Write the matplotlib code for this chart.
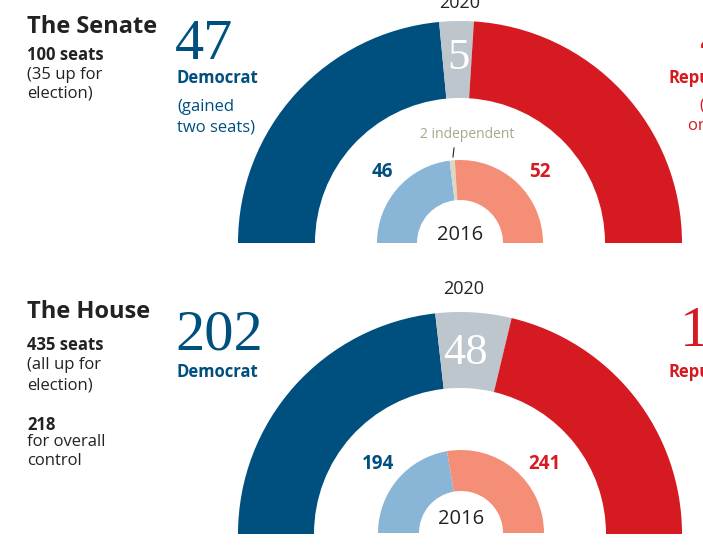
import matplotlib.pyplot as plt

# 2020 results (outer ring) and 2016 results (inner ring)
senate_2020 = [47, 5, 48]        # Democrat, undecided, Republican
senate_2016 = [46, 2, 52]        # Democrat, independent, Republican
house_2020 = [202, 48, 185]
house_2016 = [194, 241]

dem_dark = '#00507f'
rep_dark = '#d61a21'
undecided = '#bcc6cc'
dem_light = '#89b5d7'
rep_light = '#f58e77'
indep = '#dad8c4'
ink = '#222222'

W, H = 703, 546
fig = plt.figure(figsize=(W / 100, H / 100), dpi=100)
ax = fig.add_axes([0, 0, 1, 1])

sans = 'Open Sans'
serif = 'Liberation Serif'


def half_donut(values, colors, cx, cy, r, width):
    # the hidden last slice makes the visible ones fill the top half
    vals = list(values) + [sum(values)]
    cols = list(colors) + ['none']
    ax.pie(vals, colors=cols, startangle=180, counterclock=False,
           center=(cx, H - cy), radius=r,
           wedgeprops=dict(width=width, linewidth=0))


def txt(x, y, s, size, color=ink, weight='normal', ha='left', family=sans):
    ax.text(x, H - y, s, fontsize=size, color=color, fontweight=weight,
            ha=ha, va='center', family=family)


# Senate
half_donut(senate_2020, [dem_dark, undecided, rep_dark], 460, 243, 222, 77)
half_donut(senate_2016, [dem_light, indep, rep_light], 460, 243, 83, 40)

txt(27, 27, 'The Senate', 17, weight='bold')
txt(27, 55, '100 seats', 12, weight='bold')
txt(27, 75, '(35 up for', 12)
txt(27, 94, 'election)', 12)

txt(175, 45, str(senate_2020[0]), 42, color=dem_dark, family=serif)
txt(177, 78, 'Democrat', 12, color=dem_dark, weight='bold')
txt(177, 107, '(gained', 12, color=dem_dark)
txt(177, 128, 'two seats)', 12, color=dem_dark)

txt(700, 42, str(senate_2020[2]), 42, color=rep_dark, family=serif)
txt(668, 78, 'Republican', 12, color=rep_dark, weight='bold')
txt(699, 105, '(lost', 12, color=rep_dark)
txt(688, 125, 'one seat)', 12, color=rep_dark)

txt(460, 3, '2020', 13, ha='center')
txt(458, 58, str(senate_2020[1]), 32, color='white', ha='center', family=serif)

txt(382, 172, str(senate_2016[0]), 13.5, color=dem_dark, weight='bold', ha='center')
txt(540, 172, str(senate_2016[2]), 13.5, color=rep_dark, weight='bold', ha='center')
txt(467, 134, f'{senate_2016[1]} independent', 10, color='#a8a78b', ha='center')
ax.plot([453, 454], [H - 157, H - 148], color=ink, lw=0.8)
txt(460, 235, '2016', 14.5, ha='center')

# House
half_donut(house_2020, [dem_dark, undecided, rep_dark], 460, 534, 222, 76)
half_donut(house_2016, [dem_light, rep_light], 461, 533, 83, 41)

txt(27, 312, 'The House', 17, weight='bold')
txt(27, 345, '435 seats', 12, weight='bold')
txt(27, 365, '(all up for', 12)
txt(27, 385, 'election)', 12)
txt(27, 425, '218', 12, weight='bold')
txt(27, 442, 'for overall', 12)
txt(27, 461, 'control', 12)

txt(175, 336, str(house_2020[0]), 42, color=dem_dark, family=serif)
txt(177, 372, 'Democrat', 12, color=dem_dark, weight='bold')

txt(680, 331, str(house_2020[2]), 42, color=rep_dark, family=serif)
txt(668, 372, 'Republican', 12, color=rep_dark, weight='bold')

txt(464, 289, '2020', 13, ha='center')
txt(465, 353, str(house_2020[1]), 32, color='white', ha='center', family=serif)

txt(378, 464, str(house_2016[0]), 13.5, color=dem_dark, weight='bold', ha='center')
txt(544, 464, str(house_2016[1]), 13.5, color=rep_dark, weight='bold', ha='center')
txt(461, 519, '2016', 14.5, ha='center')

ax.set_xlim(0, W)
ax.set_ylim(0, H)
ax.set_aspect('equal')
ax.axis('off')

fig.savefig('out.png', dpi=100)
